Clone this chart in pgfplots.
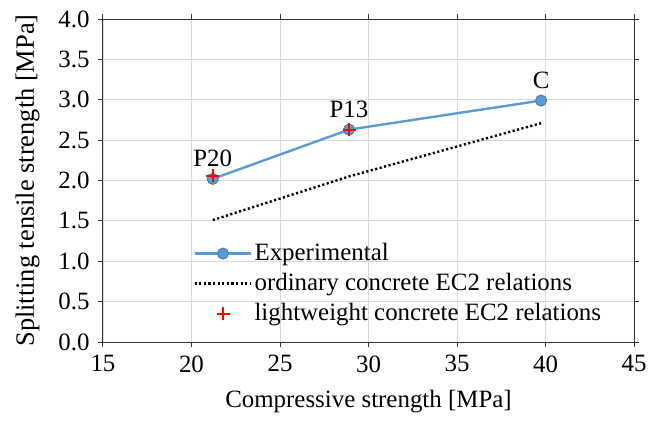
\documentclass[border=0pt]{standalone}
\usepackage{fontspec}
\setmainfont{Liberation Serif}
\usepackage{pgfplots}
\pgfplotsset{compat=1.18}

\definecolor{expblue}{RGB}{91,155,213}
\definecolor{gridgray}{RGB}{217,217,217}

\newcommand{\chartfont}{\fontsize{25}{29}\selectfont}

\pgfplotsset{
  linelegend/.style={legend image code/.code={
    \draw[##1] (0cm,0cm) -- (2cm,0cm);
    \draw[##1, mark repeat=2, mark phase=2] plot coordinates {(0cm,0cm) (1cm,0cm) (2cm,0cm)};
  }},
  marklegend/.style={legend image code/.code={
    \draw[##1] plot coordinates {(1cm,0cm)};
  }},
}

\begin{document}
\chartfont
\begin{tikzpicture}
\begin{axis}[
  name=ax, at={(0,0)}, anchor=south west,
  scale only axis,
  width=531bp, height=323bp,
  xmin=15, xmax=45, ymin=0, ymax=4,
  xtick={15,20,...,45},
  ytick={0,0.5,...,4},
  /pgf/number format/assume math mode=true,
  yticklabel style={/pgf/number format/.cd, fixed, fixed zerofill, precision=1},
  xticklabel style={/pgf/number format/.cd, fixed, precision=0},
  tick label style={font=\chartfont},
  label style={font=\chartfont},
  xlabel={Compressive strength [MPa]},
  ylabel={Splitting tensile strength [MPa]},
  xlabel style={yshift=-1bp},
  ylabel style={yshift=2bp, font=\fontsize{26.5}{30}\selectfont},
  grid=major,
  major grid style={gridgray, line width=0.9bp},
  axis line style={black!80, line width=1bp},
  tick align=outside,
  major tick length=5bp,
  tick style={black!80, line width=1bp},
  legend style={draw=none, fill=none, at={(rel axis cs:0.17,0.31)}, anchor=north west,
    font=\chartfont, row sep=7bp, inner sep=0bp,
    nodes={inner xsep=2bp, inner ysep=1bp}},
  legend cell align=left,
  linelegend,
]
% measured values
\addplot[expblue, line width=2.4bp, mark=*, mark size=5.5bp,
  mark options={fill=expblue, draw=expblue!80!black, line width=1bp},
  nodes near coords, point meta=explicit symbolic,
  every node near coord/.append style={black, font=\chartfont, yshift=3bp}]
  table[meta=lab] {
  x     y     lab
  21.2  2.02  P20
  28.9  2.63  P13
  39.75 2.99  C
};
\addlegendentry{Experimental}
% EC2 prediction for normal-weight concrete
\addplot[black, line width=2.4bp, dash pattern=on 2.2bp off 2.4bp, mark=none]
  coordinates {(21.2,1.51) (28.9,2.05) (39.75,2.71)};
\addlegendentry{ordinary concrete EC2 relations}
% EC2 prediction for lightweight concrete
\addplot[only marks, red, mark=+, mark size=6.5bp, line width=1.8bp, marklegend]
  coordinates {(21.2,2.06) (28.9,2.63)};
\addlegendentry{lightweight concrete EC2 relations}
\end{axis}
\pgfresetboundingbox
\path[use as bounding box] (-103bp,-83bp) rectangle (545bp,342bp);
\end{tikzpicture}
\end{document}
